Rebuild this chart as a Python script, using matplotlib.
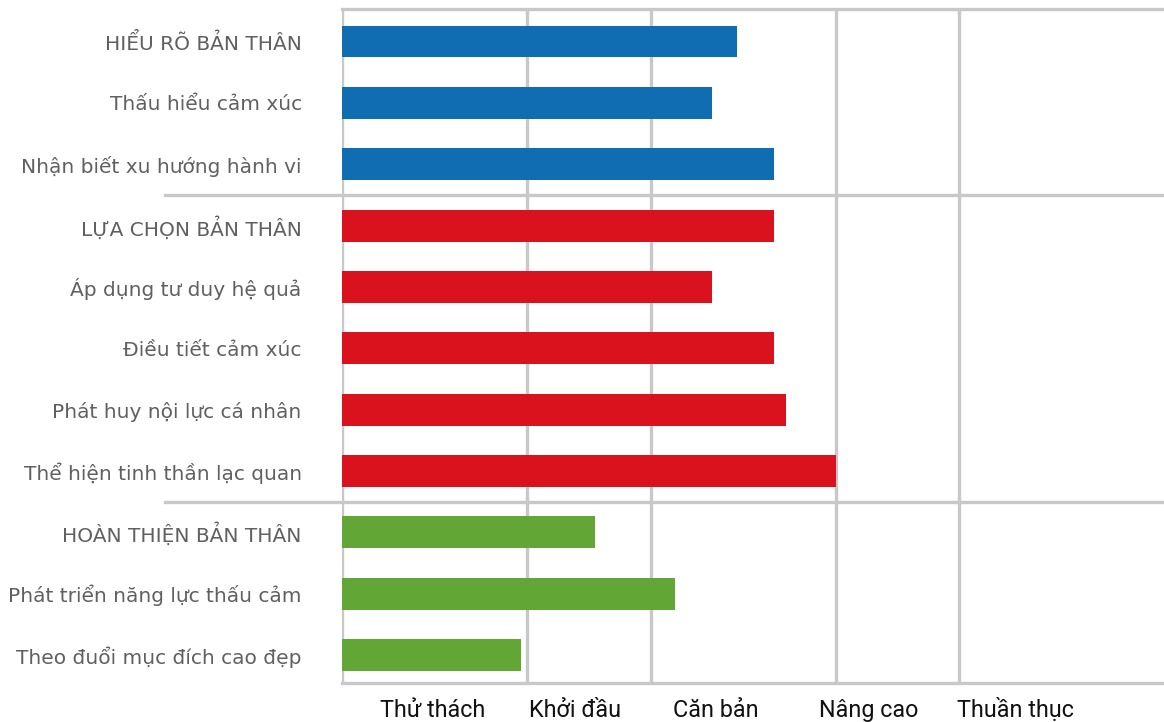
import matplotlib
matplotlib.use("Agg")
import matplotlib.pyplot as plt
import numpy as np

# Kỹ năng và điểm số theo từng nhóm
skills = [
    "HIỂU RÕ BẢN THÂN",
    "Thấu hiểu cảm xúc",
    "Nhận biết xu hướng hành vi",
    "LỰA CHỌN BẢN THÂN",
    "Áp dụng tư duy hệ quả",
    "Điều tiết cảm xúc",
    "Phát huy nội lực cá nhân",
    "Thể hiện tinh thần lạc quan",
    "HOÀN THIỆN BẢN THÂN",
    "Phát triển năng lực thấu cảm",
    "Theo đuổi mục đích cao đẹp",
]
scores = [6.4, 6.0, 7.0, 7.0, 6.0, 7.0, 7.2, 8.0, 4.1, 5.4, 2.9]
groups = [0, 0, 0, 1, 1, 1, 1, 1, 2, 2, 2]

level_labels = ["Thử thách", "Khởi đầu", "Căn bản", "Nâng cao", "Thuần thục"]
level_bounds = [0, 3, 5, 8, 10]

group_colors = ["#106DB1", "#DA121E", "#62A636"]
grid_color = "#c8c8c8"

# vị trí chữ của các mức (giữa các khoảng)
level_pos = [1.47, 3.78, 6.05, 8.54, 10.92]

fig = plt.figure(figsize=(11.64, 7.22), dpi=100)
ax = fig.add_axes([0.2938, 0.0540, 0.7062, 0.9335])

y = np.arange(len(skills))
ax.barh(y, scores, height=0.52, color=[group_colors[g] for g in groups],
        zorder=3)

ax.set_xlim(0, 13.32)
ax.set_ylim(10.456, -0.53)

# lưới dọc theo ranh giới các mức
for xb in level_bounds:
    ax.axvline(xb, color=grid_color, lw=2.4, zorder=1)

# khung trên / dưới
ax.axhline(-0.53, color=grid_color, lw=2.4, zorder=1, clip_on=False)
ax.axhline(10.456, color=grid_color, lw=2.4, zorder=1, clip_on=False)

# đường phân cách giữa các nhóm, kéo sang vùng nhãn
for sep in [2.5, 7.5]:
    ax.plot([-0.215, 1], [sep, sep], transform=ax.get_yaxis_transform(),
            color=grid_color, lw=2.4, zorder=1, clip_on=False)

for s in ax.spines.values():
    s.set_visible(False)

ax.set_yticks(y, skills)
ax.tick_params(axis="y", length=0, pad=29, labelsize=14.5, labelcolor="#606060")
for lbl in ax.get_yticklabels():
    lbl.set_family("DejaVu Sans")

# nhãn các mức, canh theo đường chân chữ
ax.set_xticks([])
for xp, txt in zip(level_pos, level_labels):
    ax.text(xp, -0.0504, txt, transform=ax.get_xaxis_transform(),
            ha="center", va="baseline", fontsize=16.8, color="#111111",
            family="Roboto")

fig.savefig("out.png", dpi=100)
